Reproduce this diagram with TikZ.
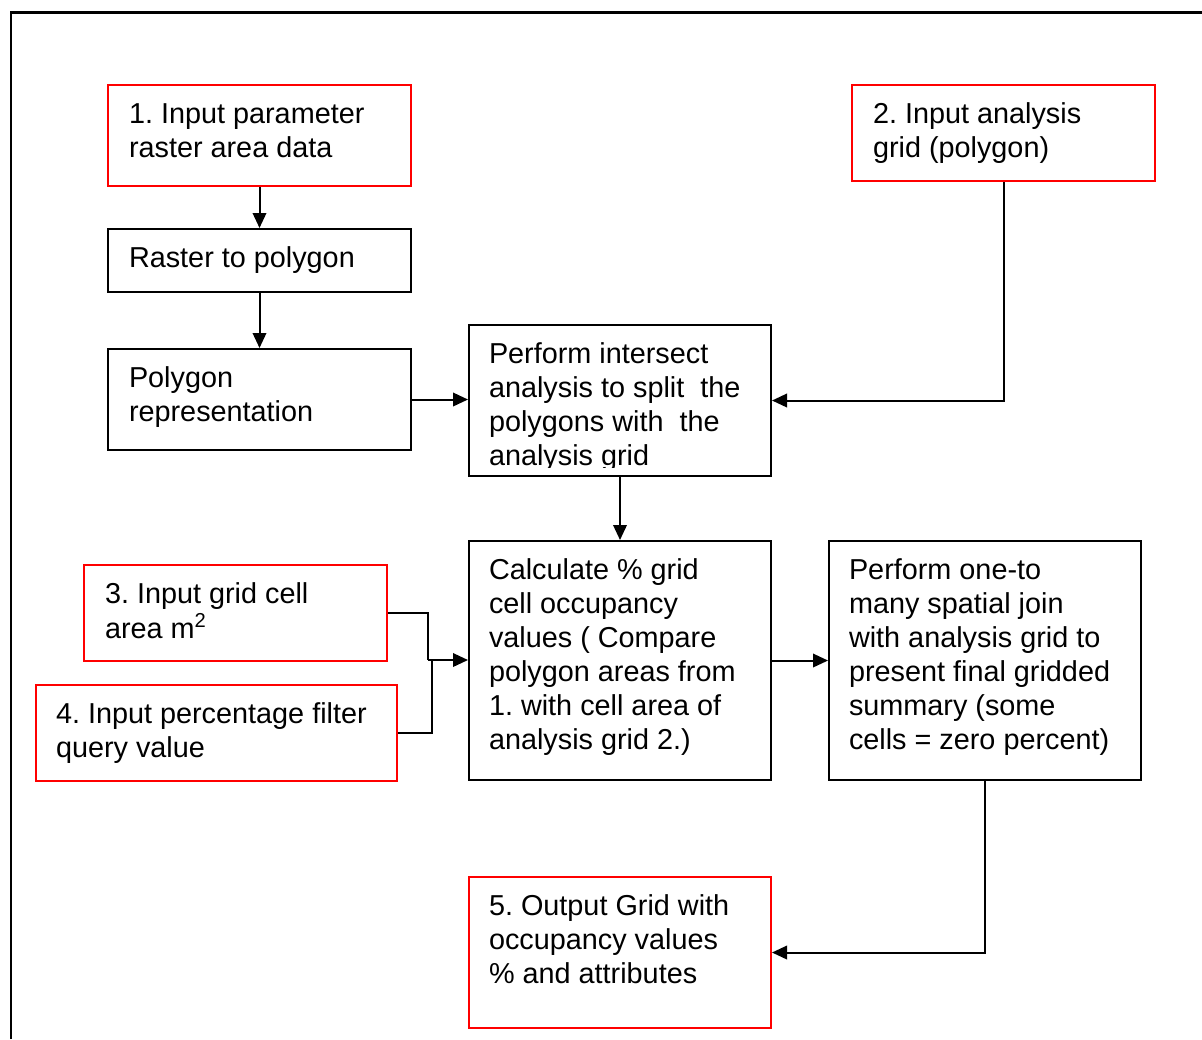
\documentclass[tikz,border=0pt]{standalone}
\usepackage{fontspec}
\setmainfont{Liberation Sans}
\usetikzlibrary{arrows.meta,fit}
\frenchspacing

\tikzset{
  box/.style={draw=black, line width=0.04cm, inner sep=0pt, fit={#1}},
  redbox/.style={draw=red, line width=0.04cm, inner sep=0pt, fit={#1}},
  txt/.style={anchor=base west, inner sep=0pt, outer sep=0pt,
    font=\fontsize{16.4}{19.35}\selectfont},
  link/.style={line width=0.04cm},
  arr/.style={link, -{Triangle[length=0.3cm,width=0.27cm]}},
  frame/.style={line width=0.06cm}
}
\newcommand{\lines}[1]{\begin{tabular}[t]{@{}l@{}}#1\end{tabular}}

\begin{document}
\begin{tikzpicture}[x=0.02cm,y=-0.02cm]
\useasboundingbox (0,0) rectangle (1202,1039);

% page frame
\draw[frame] (11,1039) -- (11,12) -- (1202,12);

% boxes
\node[redbox={(108,85) (411,186)}] (in1) {};
\node[box={(108,229) (411,292)}] (raster) {};
\node[box={(108,349) (411,450)}] (polyrep) {};
\node[redbox={(852,85) (1155,181)}] (in2) {};
\node[box={(469,325) (771,476)}] (inter) {};
\node[box={(469,541) (771,780)}] (calc) {};
\node[box={(829,541) (1141,780)}] (join) {};
\node[redbox={(84,565) (387,661)}] (in3) {};
\node[redbox={(36,685) (397,781)}] (in4) {};
\node[redbox={(469,877) (771,1028)}] (out5) {};

% box texts
\node[txt] (t1) at (129,123) {\lines{1. Input parameter\\raster area data}};
\node[txt] (traster) at (129,267) {\lines{Raster to polygon}};
\node[txt] (tpoly) at (129,387) {\lines{Polygon\\representation}};
\node[txt] (t2) at (873,123) {\lines{2. Input analysis\\grid (polygon)}};
\begin{scope}
  \clip (469,325) rectangle (771,467);
  \node[txt] (tinter) at (489,363) {\lines{Perform intersect\\analysis to split~ the\\polygons with~ the\\analysis grid}};
\end{scope}
\node[txt] (tcalc) at (489,579) {\lines{Calculate \% grid\\cell occupancy\\values ( Compare\\polygon areas from\\1. with cell area of\\analysis grid 2.)}};
\node[txt] (tjoin) at (849,579) {\lines{Perform one-to\\many spatial join\\with analysis grid to\\present final gridded\\summary (some\\cells = zero percent)}};
\node[txt] (t3) at (105,603) {\lines{3. Input grid cell\\area m\textsuperscript{2}}};
\node[txt] (t4) at (56,723) {\lines{4. Input percentage filter\\query value}};
\node[txt] (t5) at (489,915) {\lines{5. Output Grid with\\occupancy values\\\% and attributes}};

% junction points of the two merging inputs
\coordinate (j3) at (428,660);
\coordinate (j4) at (432,660);

% connectors
\draw[arr] (in1.south) -- (raster.north);
\draw[arr] (raster.south) -- (polyrep.north);
\draw[arr] (polyrep.east) -- (inter.west |- polyrep.east);
\draw[arr] (in2.south) |- (inter.east);
\draw[arr] (inter.south) -- (calc.north);
\draw[link] (in3.east) -| (j3);
\draw[link] (in4.east) -| (j4);
\draw[arr] (j3) -- (calc.west |- j3);
\draw[arr] (calc.east) -- (join.west);
\draw[arr] (join.south) |- (out5.east);
\end{tikzpicture}
\end{document}
